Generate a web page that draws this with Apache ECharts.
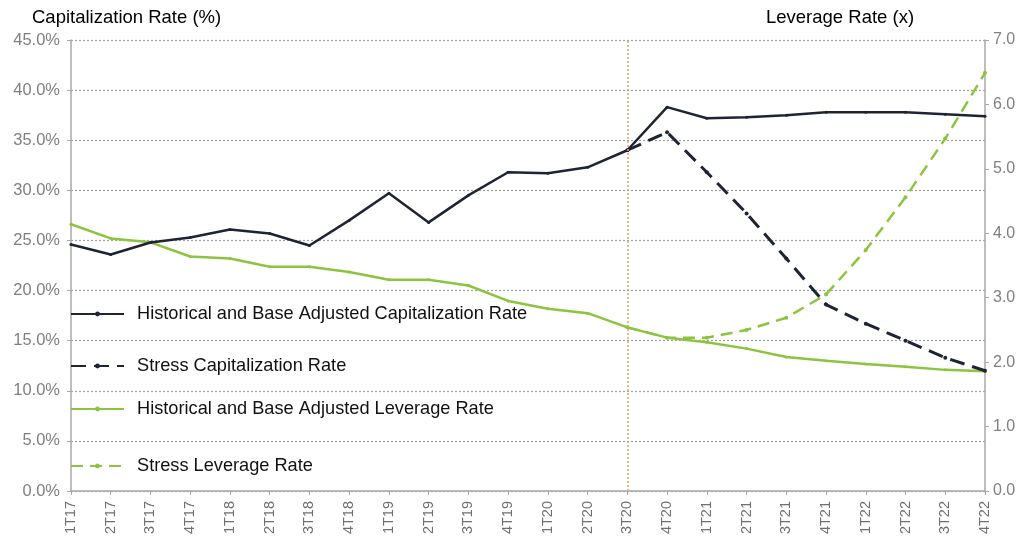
<!DOCTYPE html>
<html>
<head>
<meta charset="utf-8">
<script src="https://cdn.jsdelivr.net/npm/echarts@6/dist/echarts.min.js"></script>
<style>
  html, body { margin: 0; padding: 0; background: #ffffff; }
  #chart { width: 1034px; height: 539px; }
</style>
</head>
<body>
<div id="chart"></div>
<script>
// Quarterly periods on the horizontal axis
const quarters = ['1T17','2T17','3T17','4T17','1T18','2T18','3T18','4T18',
  '1T19','2T19','3T19','4T19','1T20','2T20','3T20','4T20',
  '1T21','2T21','3T21','4T21','1T22','2T22','3T22','4T22'];

// Capitalization rate, % (left axis)
const histCapRate = [24.6, 23.6, 24.8, 25.3, 26.1, 25.7, 24.5, 27.0,
  29.7, 26.8, 29.5, 31.8, 31.7, 32.3, 34.0, 38.3,
  37.2, 37.3, 37.5, 37.8, 37.8, 37.8, 37.6, 37.4];
const stressCapRate = [null, null, null, null, null, null, null, null,
  null, null, null, null, null, null, 34.0, 35.8,
  31.8, 27.7, 23.2, 18.6, 16.7, 15.0, 13.3, 12.0];

// Leverage rate, x (right axis)
const histLevRate = [4.14, 3.92, 3.86, 3.64, 3.61, 3.48, 3.48, 3.40,
  3.28, 3.28, 3.19, 2.95, 2.83, 2.76, 2.54, 2.38,
  2.31, 2.21, 2.08, 2.02, 1.97, 1.93, 1.88, 1.86];
const stressLevRate = [null, null, null, null, null, null, null, null,
  null, null, null, null, null, null, 2.54, 2.38,
  2.38, 2.50, 2.69, 3.05, 3.74, 4.56, 5.47, 6.49];

// Axis ranges and the projection start marker
const capAxis = { min: 0, max: 45, step: 5 };
const levAxis = { min: 0, max: 7, step: 1 };
const projectionStart = '3T20';

const seriesNames = [
  'Historical and Base Adjusted Capitalization Rate',
  'Stress Capitalization Rate',
  'Historical and Base Adjusted Leverage Rate',
  'Stress Leverage Rate'
];

const DARK = '#1e2433';
const GREEN = '#8cc43f';
const tickFont = "'Liberation Sans', Arial, sans-serif";
const textFont = "'Liberation Sans', Arial, sans-serif";

const chart = echarts.init(document.getElementById('chart'), null, { renderer: 'canvas' });

// One legend block per series, stacked inside the plot on the left
const legendTops = [305, 357, 400, 457];

const option = {
  backgroundColor: '#ffffff',
  animation: false,
  grid: { left: 71, right: 49, top: 40, bottom: 48, containLabel: false, outerBoundsMode: 'none' },
  graphic: [
    { type: 'text', left: 32, top: 8,
      style: { text: 'Capitalization Rate (%)', font: '18.5px ' + textFont, fill: '#000' } },
    { type: 'text', left: 766, top: 8,
      style: { text: 'Leverage Rate (x)', font: '18.5px ' + textFont, fill: '#000' } }
  ],
  legend: seriesNames.map((name, i) => ({
    left: 70,
    top: legendTops[i],
    padding: 0,
    orient: 'vertical',
    data: [name],
    itemWidth: 53,
    itemHeight: 6,
    selectedMode: false,
    textStyle: { fontSize: 18.2, fontFamily: textFont, color: '#111', padding: [0, 0, 0, 8] }
  })),
  xAxis: {
    type: 'category',
    data: quarters,
    boundaryGap: false,
    axisLine: { show: true, lineStyle: { color: '#a8a8a8', width: 1.5 } },
    axisTick: { show: true, length: 4, lineStyle: { color: '#a8a8a8' } },
    axisLabel: { rotate: 90, interval: 0, margin: 10, color: '#707070', fontSize: 14.5, fontFamily: tickFont },
    splitLine: { show: false }
  },
  yAxis: [
    {
      type: 'value',
      min: capAxis.min, max: capAxis.max, interval: capAxis.step,
      position: 'left',
      axisLine: { show: true, lineStyle: { color: '#a8a8a8', width: 1.5 } },
      axisTick: { show: true, length: 4, lineStyle: { color: '#a8a8a8' } },
      axisLabel: { formatter: v => v.toFixed(1) + '%', margin: 11, color: '#808080', fontSize: 16.5, fontFamily: tickFont },
      splitLine: { show: true, lineStyle: { color: '#a0a0a0', type: [2, 2], width: 1.2 } }
    },
    {
      type: 'value',
      min: levAxis.min, max: levAxis.max, interval: levAxis.step,
      position: 'right',
      axisLine: { show: true, lineStyle: { color: '#a8a8a8', width: 1.5 } },
      axisTick: { show: true, length: 4, lineStyle: { color: '#a8a8a8' } },
      axisLabel: { formatter: v => v.toFixed(1), margin: 8, color: '#808080', fontSize: 16, fontFamily: tickFont },
      splitLine: { show: false }
    }
  ],
  series: [
    {
      name: seriesNames[2], type: 'line', yAxisIndex: 1, data: histLevRate,
      symbol: 'circle', symbolSize: 3, showSymbol: true,
      itemStyle: { color: GREEN }, lineStyle: { color: GREEN, width: 2.5 }, z: 2
    },
    {
      name: seriesNames[3], type: 'line', yAxisIndex: 1, data: stressLevRate,
      symbol: 'circle', symbolSize: 4, showSymbol: true,
      itemStyle: { color: GREEN }, lineStyle: { color: GREEN, width: 2.5, type: [12, 7] }, z: 2
    },
    {
      name: seriesNames[0], type: 'line', yAxisIndex: 0, data: histCapRate,
      symbol: 'circle', symbolSize: 3, showSymbol: true,
      itemStyle: { color: DARK }, lineStyle: { color: DARK, width: 2.5 }, z: 3,
      markLine: {
        silent: true, symbol: 'none',
        label: { show: false },
        lineStyle: { color: '#f0a060', type: [2, 2], width: 1.5 },
        data: [{ xAxis: projectionStart }]
      }
    },
    {
      name: seriesNames[1], type: 'line', yAxisIndex: 0, data: stressCapRate,
      symbol: 'circle', symbolSize: 4, showSymbol: true,
      itemStyle: { color: DARK }, lineStyle: { color: DARK, width: 3, type: [15, 8] }, z: 3
    }
  ]
};

chart.setOption(option);
</script>
</body>
</html>
